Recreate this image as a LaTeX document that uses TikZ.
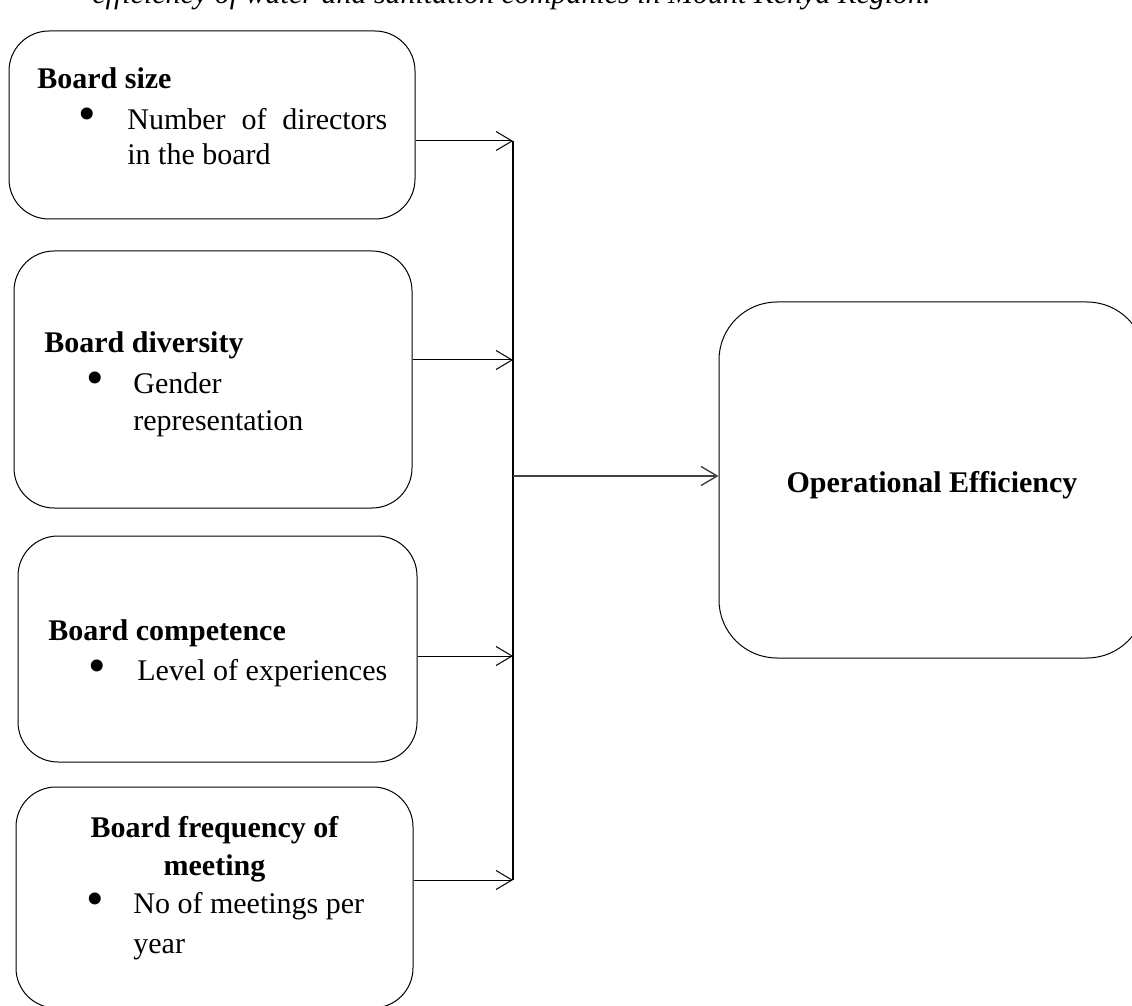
\documentclass[tikz,border=0pt]{standalone}
\usepackage{fontspec}
\setmainfont{Liberation Serif}
\usetikzlibrary{arrows.meta, positioning}
\tikzset{
	factor/.style={
		draw,
		rectangle,
		rounded corners=20pt,
		line width=0.5pt,
		inner sep=0pt
	},
	headtext/.style={anchor=base west, inner sep=0pt, font=\bfseries},
	bulletdot/.style={anchor=center, inner sep=0pt, font=\fontsize{25pt}{25pt}\selectfont},
	itemtext/.style={anchor=base west, inner sep=0pt, align=left},
	link/.style={-{Straight Barb[length=8pt,width=9.5pt]}, line width=0.5pt}
}

\begin{document}
\fontsize{15pt}{18pt}\selectfont
\begin{tikzpicture}[
		x=0.5pt, y=-0.5pt,
	]

	% The page, in pixels of the figure
	\useasboundingbox (0,0) rectangle (1132,1006);

	% Caption line, cut at the top
	\node[anchor=base west, inner sep=0pt, font=\itshape] (caption) at (92,3.5)
		{efficiency of water and sanitation companies in Mount Kenya Region.};

	% Draw the four boxes on the left
	\node[factor, minimum width=203pt, minimum height=94pt] (size) at (212,125) {};
	\node[factor, minimum width=199pt, minimum height=128.5pt] (diversity) at (213,379.5) {};
	\node[factor, minimum width=199.5pt, minimum height=113pt] (competence) at (217.5,649) {};
	\node[factor, minimum width=198.5pt, minimum height=110.5pt] (frequency) at (214.5,897.5) {};

	% Texts in the boxes (multi-line texts sit on their last baseline)
	\node[headtext] (sizehead) at (37,89) {Board size};
	\node[bulletdot] (sizedot) at (87.5,119) {\textbullet};
	\node[itemtext] (sizeitem) at (127,165)
		{\makebox[130pt][s]{Number of directors}\\[-0.5pt]in the board};

	\node[headtext] (diversityhead) at (44,353) {Board diversity};
	\node[bulletdot] (diversitydot) at (95,383) {\textbullet};
	\node[itemtext] (diversityitem) at (133,430) {Gender\\[0.5pt]representation};

	\node[headtext] (competencehead) at (48,640) {Board competence};
	\node[bulletdot] (competencedot) at (97.5,671) {\textbullet};
	\node[itemtext] (competenceitem) at (137,680) {Level of experiences};

	\node[headtext, anchor=base, align=center] (frequencyhead) at (214.5,875)
		{Board frequency of\\[1pt]meeting};
	\node[bulletdot] (frequencydot) at (95.5,904) {\textbullet};
	\node[itemtext] (frequencyitem) at (133,953) {No of meetings per\\[2pt]year};

	% The dependent variable
	\node[factor, rounded corners=29pt, minimum width=213pt, minimum height=178pt] (efficiency) at (932,480) {};
	\node[anchor=base, inner sep=0pt, font=\bfseries] (efficiencytext) at (932,492) {Operational Efficiency};

	% The collecting bar
	\coordinate (in1) at (513,141);
	\coordinate (in2) at (513,360);
	\coordinate (in3) at (513,656);
	\coordinate (in4) at (513,880);
	\coordinate (out) at (513,476);
	\draw[line width=1pt] (in1) -- (in4);

	\draw[link] (size.east |- in1) -- (in1);
	\draw[link] (diversity.east |- in2) -- (in2);
	\draw[link] (competence.east |- in3) -- (in3);
	\draw[link] (frequency.east |- in4) -- (in4);
	\draw[link, line width=0.7pt, draw=black!75] (out) -- (out -| efficiency.west);

\end{tikzpicture}
\end{document}
